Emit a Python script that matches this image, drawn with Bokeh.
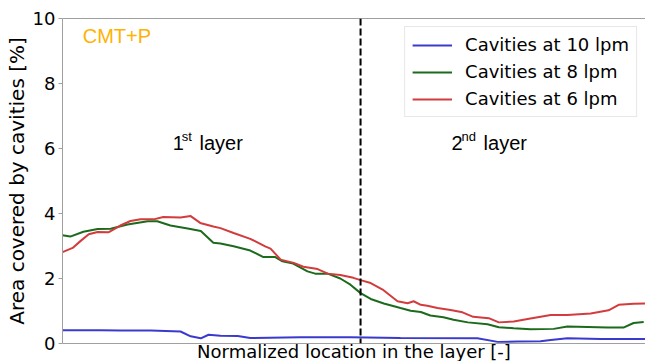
from bokeh.plotting import figure
from bokeh.models import Range1d, Span, Label, Legend, LegendItem, LinearAxis, FixedTicker, Title
from bokeh.embed import file_html
from bokeh.resources import INLINE

# ---- data (normalized location in the layer, area covered by cavities %) ----
x_10 = [0.000, 0.064, 0.097, 0.148, 0.198, 0.215, 0.232, 0.245, 0.265, 0.294, 0.315,
        0.399, 0.483, 0.567, 0.696, 0.730, 0.763, 0.802, 0.819, 0.847, 0.903, 0.978]
y_10 = [0.41, 0.41, 0.40, 0.40, 0.37, 0.22, 0.16, 0.27, 0.24, 0.23, 0.17,
        0.19, 0.19, 0.17, 0.16, 0.05, 0.06, 0.07, 0.11, 0.16, 0.14, 0.14]

x_8 = [0.000, 0.013, 0.035, 0.059, 0.081, 0.109, 0.143, 0.159, 0.181, 0.210, 0.232,
       0.253, 0.265, 0.287, 0.315, 0.337, 0.357, 0.369, 0.387, 0.411, 0.424, 0.445,
       0.466, 0.483, 0.500, 0.517, 0.539, 0.567, 0.584, 0.601, 0.617, 0.639, 0.656,
       0.680, 0.713, 0.732, 0.757, 0.785, 0.824, 0.847, 0.881, 0.914, 0.941, 0.958, 0.975]
y_8 = [3.33, 3.29, 3.44, 3.52, 3.53, 3.66, 3.76, 3.76, 3.63, 3.54, 3.46,
       3.10, 3.08, 2.99, 2.86, 2.66, 2.66, 2.53, 2.46, 2.22, 2.15, 2.15,
       2.00, 1.81, 1.55, 1.37, 1.23, 1.09, 1.01, 0.97, 0.86, 0.81, 0.73,
       0.65, 0.59, 0.50, 0.47, 0.44, 0.45, 0.52, 0.51, 0.49, 0.49, 0.63, 0.66]

x_6 = [0.000, 0.017, 0.030, 0.044, 0.059, 0.077, 0.097, 0.114, 0.131, 0.153, 0.169,
       0.198, 0.215, 0.231, 0.253, 0.265, 0.287, 0.315, 0.340, 0.349, 0.366, 0.388,
       0.404, 0.428, 0.445, 0.466, 0.488, 0.500, 0.517, 0.537, 0.562, 0.579, 0.589,
       0.601, 0.612, 0.629, 0.651, 0.671, 0.689, 0.715, 0.732, 0.757, 0.785, 0.819,
       0.847, 0.886, 0.916, 0.933, 0.958, 0.978]
y_6 = [2.81, 2.94, 3.15, 3.36, 3.43, 3.42, 3.63, 3.77, 3.82, 3.82, 3.89,
       3.88, 3.92, 3.71, 3.60, 3.55, 3.40, 3.22, 2.99, 2.92, 2.58, 2.48,
       2.36, 2.29, 2.15, 2.11, 2.02, 1.95, 1.86, 1.66, 1.30, 1.24, 1.30,
       1.19, 1.16, 1.09, 1.03, 0.96, 0.82, 0.78, 0.65, 0.68, 0.77, 0.88,
       0.88, 0.92, 1.02, 1.19, 1.22, 1.23]

y_ticks = [0, 2, 4, 6, 8, 10]
layer_boundary = 0.5
series_labels = ["Cavities at 10 lpm", "Cavities at 8 lpm", "Cavities at 6 lpm"]
series_colors = ["#3a3acf", "#1c6a1c", "#d23c3c"]

FONT = "DejaVu Sans"
FONT2 = "Liberation Sans"

p = figure(width=645, height=361, output_backend="svg", toolbar_location=None,
           x_range=Range1d(0, 0.978), y_range=Range1d(0, 10),
           min_border_top=18, min_border_bottom=0, min_border_right=0, min_border_left=62)
p.outline_line_color = None
p.grid.visible = False
p.background_fill_color = "white"

# y axis
p.yaxis.ticker = FixedTicker(ticks=y_ticks)
p.yaxis.axis_label = "Area covered by cavities [%]"
p.yaxis.axis_label_text_font = FONT
p.yaxis.axis_label_text_font_size = "20px"
p.yaxis.axis_label_text_font_style = "normal"
p.yaxis.axis_label_text_color = "black"
p.yaxis.axis_label_standoff = 1
p.yaxis.major_label_text_font = FONT
p.yaxis.major_label_text_font_size = "18px"
p.yaxis.major_label_text_color = "black"
p.yaxis.major_label_standoff = 3
p.yaxis.major_tick_out = 4
p.yaxis.major_tick_in = 0
p.yaxis.minor_tick_out = 0
p.yaxis.minor_tick_in = 0
p.yaxis.axis_line_color = "#a0a0a0"
p.yaxis.major_tick_line_color = "#a0a0a0"

# x axis: no ticks
p.xaxis.ticker = FixedTicker(ticks=[])
p.xaxis.major_tick_out = 0
p.xaxis.major_tick_in = 0
p.xaxis.minor_tick_out = 0
p.xaxis.minor_tick_in = 0
p.xaxis.major_label_text_font_size = "0px"
p.xaxis.major_label_standoff = 0
p.xaxis.axis_line_color = "#a0a0a0"

top = LinearAxis(ticker=FixedTicker(ticks=[]), major_tick_out=0, major_tick_in=0,
                 minor_tick_out=0, minor_tick_in=0, major_label_text_font_size="0px",
                 major_label_standoff=0, axis_line_color="#a0a0a0")
p.add_layout(top, "above")

r10 = p.line(x_10, y_10, line_color=series_colors[0], line_width=2)
r8 = p.line(x_8, y_8, line_color=series_colors[1], line_width=2)
r6 = p.line(x_6, y_6, line_color=series_colors[2], line_width=2)

p.add_layout(Span(location=layer_boundary, dimension="height", line_color="black",
                  line_width=2, line_dash="7 3"))

legend = Legend(items=[LegendItem(label=series_labels[0], renderers=[r10]),
                       LegendItem(label=series_labels[1], renderers=[r8]),
                       LegendItem(label=series_labels[2], renderers=[r6])],
                location="top_right", margin=8, padding=7, spacing=6,
                label_standoff=13, glyph_width=40,
                label_text_font=FONT, label_text_font_size="18px", label_text_color="black",
                border_line_color="#d0d0d0", border_line_width=1,
                background_fill_color="white", background_fill_alpha=0.9)
p.add_layout(legend)

# annotations
p.add_layout(Label(x=0.034, y=9.23, y_offset=8, text="CMT+P", text_font=FONT2, text_font_size="20px",
                   text_color="#FFB300", text_baseline="alphabetic"))
for xx, tt, sz, off in [(0.185, "1", "20px", 6), (0.2, "st", "13px", 12), (0.2299, "layer", "20px", 6),
                        (0.6527, "2", "20px", 6), (0.6695, "nd", "13px", 12), (0.7064, "layer", "20px", 6)]:
    p.add_layout(Label(x=xx, y=6.0, y_offset=off, text=tt, text_font=FONT2, text_font_size=sz,
                       text_color="black", text_baseline="alphabetic"))

xt = Title(text="Normalized location in the layer [-]", align="center", offset=-11,
           text_font=FONT, text_font_size="18px", text_font_style="normal",
           text_color="black", standoff=-5, vertical_align="top")
p.add_layout(xt, "below")

open("out.html", "w").write(file_html(p, INLINE))
